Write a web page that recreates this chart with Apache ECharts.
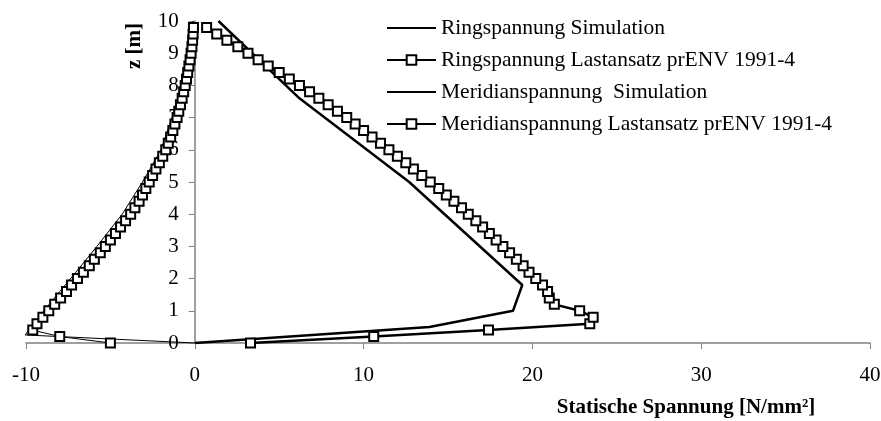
<!DOCTYPE html>
<html lang="de">
<head>
<meta charset="UTF-8">
<title>Statische Spannung</title>
<script src="https://cdn.jsdelivr.net/npm/echarts@6/dist/echarts.min.js"></script>
<style>
  html, body { margin: 0; padding: 0; background: #fff; }
  #chart { width: 881px; height: 421px; }
</style>
</head>
<body>
<div id="chart"></div>
<script>
// Hoehen z [m] der Lastansatz-Punkte
var lastZ = [0, 0.2, 0.4, 0.6, 0.8, 1.0, 1.2, 1.4, 1.6, 1.8,
             2.0, 2.2, 2.4, 2.6, 2.8, 3.0, 3.2, 3.4, 3.6, 3.8,
             4.0, 4.2, 4.4, 4.6, 4.8, 5.0, 5.2, 5.4, 5.6, 5.8,
             6.0, 6.2, 6.4, 6.6, 6.8, 7.0, 7.2, 7.4, 7.6, 7.8,
             8.0, 8.2, 8.4, 8.6, 8.8, 9.0, 9.2, 9.4, 9.6, 9.8];
// Ringspannung Lastansatz prENV 1991-4 [N/mm²]
var ringLast = [3.3, 10.6, 17.4, 23.4, 23.6, 22.8, 21.3, 21.0, 20.9, 20.6,
                20.2, 19.8, 19.45, 19.05, 18.65, 18.25, 17.85, 17.45, 17.05, 16.65,
                16.2, 15.8, 15.35, 14.9, 14.45, 13.95, 13.45, 12.95, 12.5, 12.0,
                11.5, 11.0, 10.5, 10.0, 9.5, 9.0, 8.45, 7.9, 7.35, 6.8,
                6.2, 5.6, 5.0, 4.35, 3.75, 3.15, 2.55, 1.9, 1.3, 0.7];
// Meridianspannung Lastansatz prENV 1991-4 [N/mm²]
var meridLast = [-5.0, -8.0, -9.6, -9.35, -9.0, -8.65, -8.3, -7.95, -7.6, -7.3,
                 -6.95, -6.6, -6.25, -5.95, -5.6, -5.3, -5.0, -4.7, -4.4, -4.1,
                 -3.8, -3.55, -3.3, -3.1, -2.9, -2.7, -2.5, -2.3, -2.1, -1.9,
                 -1.72, -1.57, -1.43, -1.3, -1.18, -1.05, -0.95, -0.85, -0.75, -0.66,
                 -0.57, -0.49, -0.42, -0.35, -0.28, -0.22, -0.17, -0.13, -0.1, -0.08];
// Simulation (Knickpunkte)
var ringSimX = [0, 13.9, 18.85, 19.4, 12.7, 6.2, 1.4];
var ringSimZ = [0, 0.5, 1.0, 1.8, 5.0, 7.6, 10.0];
var meridSimX = [0, -10.05, -9.1, -8.0, -7.2, -5.8, -4.3, -3.1, -2.0, -1.35, -0.75, -0.35, -0.1];
var meridSimZ = [0, 0.25, 0.9, 1.6, 2.1, 3.0, 4.0, 5.0, 6.0, 7.0, 8.0, 9.0, 10.0];

var names = ['Ringspannung Simulation', 'Ringspannung Lastansatz prENV 1991-4',
             'Meridianspannung  Simulation', 'Meridianspannung Lastansatz prENV 1991-4'];

function pairs(xs, zs) {
  var out = [];
  for (var i = 0; i < xs.length; i++) out.push([xs[i], zs[i]]);
  return out;
}

var font = '"Liberation Serif", "Times New Roman", serif';
var gridLeft = 26, gridRight = 11, width = 881;
var xMin = -10, xMax = 40;
// y-Achse sitzt bei x = 0
var yAxisShift = (width - gridLeft - gridRight) * (0 - xMin) / (xMax - xMin);

var chart = echarts.init(document.getElementById('chart'));

var markerStyle = { color: '#fff', borderColor: '#000', borderWidth: 2 };

chart.setOption({
  animation: false,
  backgroundColor: '#fff',
  textStyle: { fontFamily: font },
  grid: { left: gridLeft, right: gridRight, top: 21, bottom: 78, outerBoundsMode: 'none', containLabel: false },
  legend: {
    orient: 'vertical',
    left: 381,
    top: 12,
    itemWidth: 49,
    itemHeight: 12,
    itemGap: 10,
    textStyle: { fontFamily: font, fontSize: 21.5, color: '#000', lineHeight: 22 },
    data: [
      { name: names[0], itemStyle: { opacity: 0 } },
      { name: names[1] },
      { name: names[2], itemStyle: { opacity: 0 } },
      { name: names[3] }
    ]
  },
  xAxis: {
    type: 'value',
    min: xMin, max: xMax, interval: 10,
    splitLine: { show: false },
    axisLine: { onZero: false, lineStyle: { color: '#808080', width: 1.5 } },
    axisTick: { length: 6, lineStyle: { color: '#808080' } },
    axisLabel: { margin: 22, fontFamily: font, fontSize: 21, color: '#000' }
  },
  yAxis: {
    type: 'value',
    min: 0, max: 10, interval: 1,
    offset: -yAxisShift,
    splitLine: { show: false },
    axisLine: { onZero: false, lineStyle: { color: '#808080', width: 1.5 } },
    axisTick: { length: 6, lineStyle: { color: '#808080' } },
    axisLabel: { margin: 16, fontFamily: font, fontSize: 21, color: '#000' }
  },
  graphic: [
    {
      type: 'text', x: 135, y: 46, rotation: Math.PI / 2,
      style: { text: 'z [m]', fontFamily: font, fontSize: 21, fontWeight: 'bold',
               fill: '#000', align: 'center', verticalAlign: 'middle' }
    },
    {
      type: 'text', x: 686, y: 408,
      style: { text: 'Statische Spannung [N/mm²]', fontFamily: font, fontSize: 21, fontWeight: 'bold',
               fill: '#000', align: 'center', verticalAlign: 'middle' }
    }
  ],
  series: [
    {
      name: names[0], type: 'line', symbol: 'none',
      lineStyle: { color: '#000', width: 2.5 },
      itemStyle: { color: '#000' },
      data: pairs(ringSimX, ringSimZ)
    },
    {
      name: names[1], type: 'line', symbol: 'rect', symbolSize: 9, showAllSymbol: true,
      lineStyle: { color: '#000', width: 2.5 },
      itemStyle: markerStyle,
      data: pairs(ringLast, lastZ)
    },
    {
      name: names[2], type: 'line', symbol: 'none',
      lineStyle: { color: '#000', width: 1 },
      itemStyle: { color: '#000' },
      data: pairs(meridSimX, meridSimZ)
    },
    {
      name: names[3], type: 'line', symbol: 'rect', symbolSize: 9, showAllSymbol: true,
      lineStyle: { color: '#000', width: 1 },
      itemStyle: markerStyle,
      data: pairs(meridLast, lastZ)
    }
  ]
});
</script>
</body>
</html>
